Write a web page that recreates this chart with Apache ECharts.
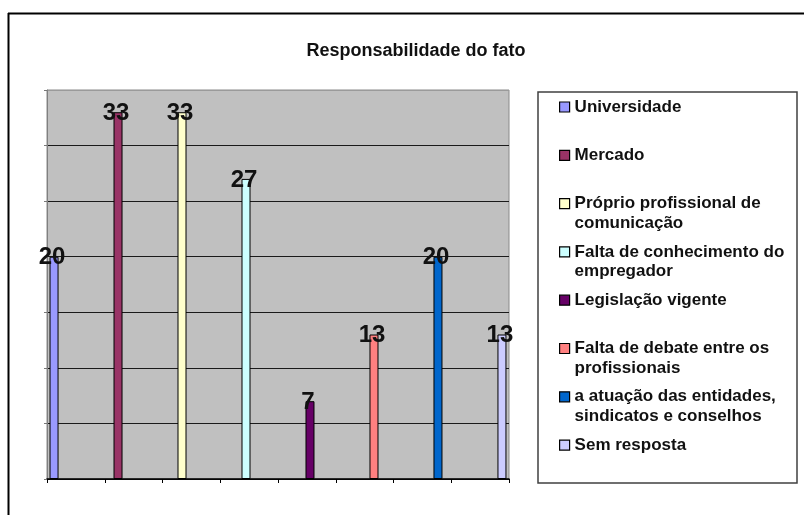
<!DOCTYPE html>
<html>
<head>
<meta charset="utf-8">
<script src="https://cdn.jsdelivr.net/npm/echarts@6/dist/echarts.min.js"></script>
<style>html,body{margin:0;padding:0;background:#fff}#c{width:804px;height:515px}</style>
</head>
<body>
<div id="c"></div>
<script>
const chartTitle = 'Responsabilidade do fato';
const categories = ['Responsabilidade do fato'];
const seriesNames = ['Universidade', 'Mercado', 'Próprio profissional de comunicação', 'Falta de conhecimento do empregador', 'Legislação vigente', 'Falta de debate entre os profissionais', 'a atuação das entidades, sindicatos e conselhos', 'Sem resposta'];
const legendLabels = ['Universidade', 'Mercado', 'Próprio profissional de\ncomunicação', 'Falta de conhecimento do\nempregador', 'Legislação vigente', 'Falta de debate entre os\nprofissionais', 'a atuação das entidades,\nsindicatos e conselhos', 'Sem resposta'];
const values = [20, 33, 33, 27, 7, 13, 20, 13];
const colors = ['#9999FF', '#993366', '#FFFFCC', '#CCFFFF', '#660066', '#FF8080', '#0066CC', '#CCCCFF'];
const yTicks = [0, 5, 10, 15, 20, 25, 30, 35];

const FONT = '"Liberation Sans", Arial, sans-serif';
const LH = 19.5;
const legendX = 559, legendY0 = 107, legendStep = 48.3;

const chart = echarts.init(document.getElementById('c'), null, {renderer: 'canvas'});

// multi-line entries get a leading blank line so the marker lines up with their first line
const legendText = legendLabels.map(t => t.indexOf('\n') >= 0 ? '\n' + t : t);

const legends = seriesNames.map((name, i) => {
  const lines = legendText[i].split('\n').length;
  const center = legendY0 + legendStep * i;
  const boxH = LH * lines;
  return {
    data: [name],
    left: legendX,
    top: center - boxH / 2,
    orient: 'vertical',
    padding: 0,
    icon: 'rect',
    itemWidth: 10,
    itemHeight: 10,
    selectedMode: false,
    itemStyle: {borderColor: '#000', borderWidth: 1.2},
    formatter: n => legendText[seriesNames.indexOf(n)],
    textStyle: {fontFamily: FONT, fontWeight: 'bold', fontSize: 17, color: '#111', lineHeight: LH}
  };
});

const lineColors = yTicks.map((t, i) => i === yTicks.length - 1 ? '#9a9a9a' : '#1a1a1a');

chart.setOption({
  backgroundColor: '#fff',
  animation: false,
  title: {
    text: chartTitle,
    left: 411,
    top: 37,
    textAlign: 'center',
    textStyle: {fontFamily: FONT, fontWeight: 'bold', fontSize: 18, color: '#111'}
  },
  legend: legends,
  grid: {
    left: 47, top: 90, width: 462, height: 389,
    show: true, backgroundColor: '#C0C0C0', borderColor: '#8a8a8a', borderWidth: 1
  },
  xAxis: [
    {
      type: 'category', data: categories, gridIndex: 0, position: 'bottom',
      axisLine: {show: false}, axisTick: {show: false}, axisLabel: {show: false}, splitLine: {show: false}
    },
    {
      type: 'category', data: seriesNames, gridIndex: 0, position: 'bottom', boundaryGap: true,
      axisLine: {show: true, lineStyle: {color: '#000', width: 1.5}},
      axisTick: {show: true, interval: 0, length: 4, lineStyle: {color: '#000', width: 1}},
      axisLabel: {show: false, interval: 0}, splitLine: {show: false}
    }
  ],
  yAxis: {
    type: 'value', min: 0, max: 35, interval: 5,
    axisLine: {show: true, lineStyle: {color: '#808080', width: 1}},
    axisTick: {show: true, length: 3, lineStyle: {color: '#777'}},
    axisLabel: {show: false},
    splitLine: {show: true, lineStyle: {color: lineColors, width: 1.2}}
  },
  graphic: [
    {type: 'rect', shape: {x: 538, y: 92, width: 259, height: 391}, style: {fill: 'none', stroke: '#404040', lineWidth: 1.5}, silent: true},
    {type: 'line', shape: {x1: 8.5, y1: 13, x2: 8.5, y2: 515}, style: {stroke: '#000', lineWidth: 2}, silent: true},
    {type: 'line', shape: {x1: 8, y1: 13.5, x2: 804, y2: 13.5}, style: {stroke: '#000', lineWidth: 2}, silent: true}
  ],
  series: seriesNames.map((name, i) => ({
    name: name,
    type: 'bar',
    xAxisIndex: 0,
    data: [values[i]],
    barWidth: 9,
    barGap: '611%',
    itemStyle: {color: colors[i], borderColor: '#000', borderWidth: 1},
    label: {
      show: true, position: 'top', distance: -13, offset: [-2, 0],
      fontFamily: FONT, fontWeight: 'bold', fontSize: 24, color: '#111'
    }
  }))
});
</script>
</body>
</html>
